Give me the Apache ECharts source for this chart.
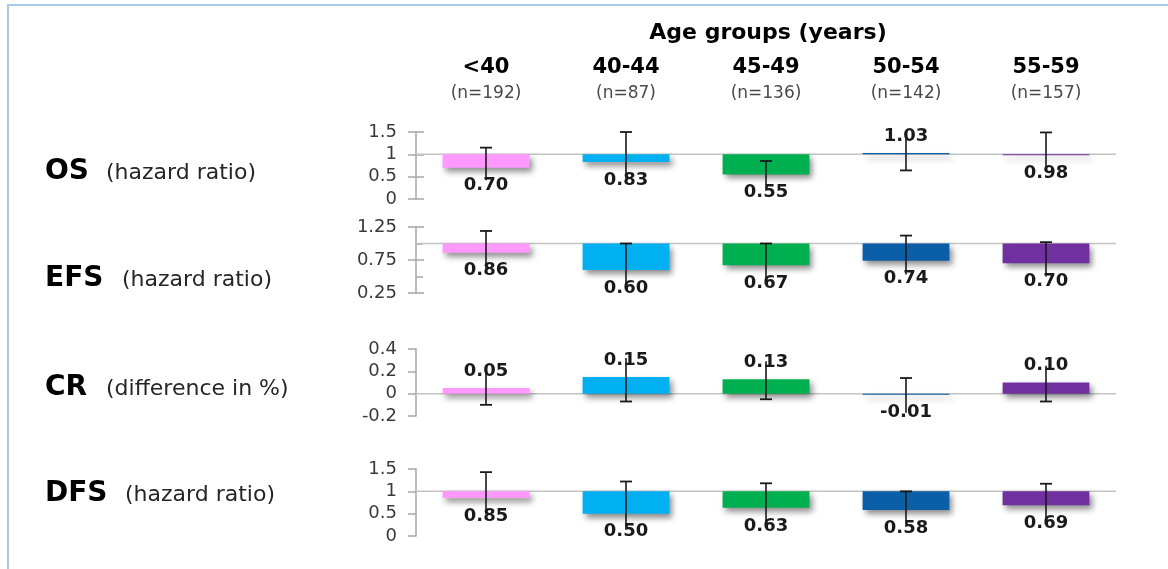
<!DOCTYPE html>
<html><head><meta charset="utf-8">
<script src="https://cdn.jsdelivr.net/npm/echarts@6/dist/echarts.min.js"></script>
<style>html,body{margin:0;padding:0;background:#fff}#c{width:1168px;height:569px}</style>
</head><body><div id="c"></div>
<script>
// ---- data ----
const categories = ['<40', '40-44', '45-49', '50-54', '55-59'];
const groupSizes = [192, 87, 136, 142, 157];
const headerTitle = 'Age groups (years)';

const rowNames = ['OS', 'EFS', 'CR', 'DFS'];
const rowUnits = ['(hazard ratio)', '(hazard ratio)', '(difference in %)', '(hazard ratio)'];

const osHR    = [0.70, 0.83, 0.55, 1.03, 0.98];
const osLower = [0.42, 0.38, 0.33, 0.64, 0.62];
const osUpper = [1.15, 1.50, 0.85, 1.40, 1.49];

const efsHR    = [0.86, 0.60, 0.67, 0.74, 0.70];
const efsLower = [0.61, 0.34, 0.38, 0.53, 0.50];
const efsUpper = [1.19, 1.00, 1.00, 1.12, 1.02];

const crDiff  = [0.05, 0.15, 0.13, -0.01, 0.10];
const crLower = [-0.10, -0.07, -0.05, -0.17, -0.07];
const crUpper = [0.22, 0.32, 0.29, 0.14, 0.25];

const dfsHR    = [0.85, 0.50, 0.63, 0.58, 0.69];
const dfsLower = [0.48, 0.22, 0.30, 0.33, 0.33];
const dfsUpper = [1.43, 1.22, 1.18, 1.00, 1.17];

// reference (no-effect) value and axis ranges per row
const rowBase     = [1, 1, 0, 1];
const axisMin     = [0, 0.25, -0.2, 0];
const axisMax     = [1.5, 1.25, 0.4, 1.5];
const axisStep    = [0.5, 0.5, 0.2, 0.5];

// ---- style / layout ----
const barColors = ['#FF99FF', '#00B0F0', '#00B050', '#0A5FA8', '#7030A0'];
const gridTop    = [132, 227, 349, 469];
const gridHeight = [67, 66, 67, 67];
const rowLabelY  = [172, 279, 388, 494];
const unitX      = [106, 122, 106, 125];
const innerTicks = [true, true, false, false];
const minorInner = [false, true, false, false];
const FONT = '"DejaVu Sans", "Liberation Sans", Arial, sans-serif';
const axisGrey = '#a6a6a6';

const rows = [
  [osHR, osLower, osUpper],
  [efsHR, efsLower, efsUpper],
  [crDiff, crLower, crUpper],
  [dfsHR, dfsLower, dfsUpper]
];

function makeRender(r) {
  return function (params, api) {
    const i = api.value(0);
    const v = api.value(1), lo = api.value(2), hi = api.value(3);
    const base = rowBase[r];
    const pBase = api.coord([i, base]);
    const pVal = api.coord([i, v]);
    const pLo = api.coord([i, lo]);
    const pHi = api.coord([i, hi]);
    const bw = api.size([1, 0])[0] * 0.62;
    const x = pBase[0];
    const y0 = Math.min(pBase[1], pVal[1]);
    const h = Math.max(Math.abs(pBase[1] - pVal[1]), 0.8);
    const below = v < base;
    const labelY = below ? pVal[1] + 18 : pVal[1] - 17;
    const cap = 6;
    const children = [];
    if (params.dataIndex === 0) {
      const cs = params.coordSys;
      children.push({ type: 'line', shape: { x1: cs.x, y1: pBase[1], x2: cs.x + cs.width, y2: pBase[1] },
        style: { stroke: '#c4c4c4', lineWidth: 1.5 }, z2: 0 });
    }
    children.push({ type: 'rect', shape: { x: x - bw / 2, y: y0, width: bw, height: h },
      style: { fill: barColors[i], shadowBlur: 6, shadowOffsetX: 3, shadowOffsetY: 4, shadowColor: 'rgba(0,0,0,0.45)' }, z2: 1 });
    children.push({ type: 'line', shape: { x1: x, y1: pLo[1], x2: x, y2: pHi[1] },
      style: { stroke: '#1a1a1a', lineWidth: 1.6 }, z2: 2 });
    [pLo[1], pHi[1]].forEach(function (yy) {
      if (Math.abs(yy - labelY) > 11) {
        children.push({ type: 'line', shape: { x1: x - cap, y1: yy, x2: x + cap, y2: yy },
          style: { stroke: '#1a1a1a', lineWidth: 1.8 }, z2: 2 });
      }
    });
    children.push({ type: 'text', x: x, y: labelY, z2: 3,
      style: { text: v.toFixed(2), align: 'center', verticalAlign: 'middle',
        font: 'bold 18px ' + FONT, fill: '#1a1a1a' } });
    return { type: 'group', children: children };
  };
}

const grids = [], xAxes = [], yAxes = [], series = [], graphics = [];
rows.forEach(function (row, r) {
  grids.push({ left: 416, right: 52, top: gridTop[r], height: gridHeight[r] });
  xAxes.push({
    type: 'category', gridIndex: r, data: categories, position: 'top',
    axisLine: { show: false }, axisTick: { show: false },
    axisLabel: r === 0 ? {
      show: true, interval: 0, margin: 26,
      formatter: function (val, idx) { return '{a|' + val + '}\n{b|(n=' + groupSizes[idx] + ')}'; },
      rich: {
        a: { fontFamily: FONT, fontWeight: 'bold', fontSize: 21, color: '#000', lineHeight: 28 },
        b: { fontFamily: FONT, fontSize: 17, color: '#4a4a4a', lineHeight: 24 }
      }
    } : { show: false }
  });
  yAxes.push({
    type: 'value', gridIndex: r, min: axisMin[r], max: axisMax[r], interval: axisStep[r],
    axisLine: { show: true, lineStyle: { color: axisGrey, width: 1.5 } },
    axisTick: { show: true, length: 8, lineStyle: { color: axisGrey, width: 1.5 } },
    splitLine: { show: false },
    axisLabel: { margin: 19, fontFamily: FONT, fontSize: 18, color: '#3a3a3a' }
  });
  if (innerTicks[r]) {
    yAxes.push({
      type: 'value', gridIndex: r, min: axisMin[r], max: axisMax[r], interval: axisStep[r], position: 'left',
      axisLine: { show: false },
      axisTick: { show: true, inside: true, length: 8, lineStyle: { color: axisGrey, width: 1.5 } },
      minorTick: { show: minorInner[r], splitNumber: 2, length: 7, lineStyle: { color: axisGrey, width: 1.5 } },
      splitLine: { show: false }, axisLabel: { show: false }
    });
  }
  const data = categories.map(function (c, i) { return [i, row[0][i], row[1][i], row[2][i]]; });
  series.push({
    type: 'custom', xAxisIndex: r, yAxisIndex: yAxes.length - (innerTicks[r] ? 2 : 1),
    renderItem: makeRender(r), data: data, encode: { x: 0, y: 1 }, silent: true, clip: false
  });
  graphics.push({ type: 'text', x: 45, y: rowLabelY[r], style: { text: rowNames[r], font: 'bold 28px ' + FONT, fill: '#000', verticalAlign: 'middle' } });
  graphics.push({ type: 'text', x: unitX[r], y: rowLabelY[r] + 1, style: { text: rowUnits[r], font: '22px ' + FONT, fill: '#262626', verticalAlign: 'middle' } });
});

graphics.push({ type: 'text', x: 768, y: 33, style: { text: headerTitle, font: 'bold 22px ' + FONT, fill: '#000', align: 'center', verticalAlign: 'middle' } });
graphics.push({ type: 'rect', shape: { x: 8, y: 5, width: 1200, height: 620 }, style: { fill: 'none', stroke: '#A9C9EB', lineWidth: 2 }, silent: true });

const chart = echarts.init(document.getElementById('c'), null, { renderer: 'canvas' });
chart.setOption({
  animation: false,
  backgroundColor: '#fff',
  grid: grids, xAxis: xAxes, yAxis: yAxes, series: series, graphic: graphics
});
</script>
</body></html>
